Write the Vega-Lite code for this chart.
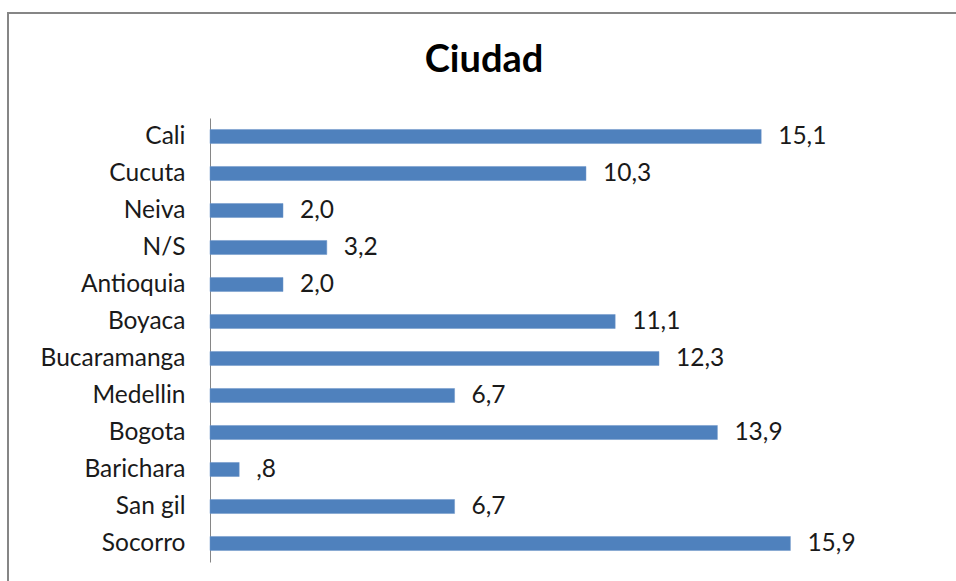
{
  "$schema": "https://vega.github.io/schema/vega-lite/v6.json",
  "width": 952,
  "height": 574,
  "autosize": {"type": "none"},
  "padding": {"left": 8, "top": 13, "right": 0, "bottom": 0},
  "background": "white",
  "title": {
    "text": "Ciudad",
    "font": "Lato",
    "fontSize": 38,
    "fontWeight": "bold",
    "color": "#000000",
    "anchor": "middle",
    "frame": "group",
    "baseline": "alphabetic",
    "offset": -97
  },
  "config": {
    "view": {"stroke": "#868686", "strokeWidth": 2}
  },
  "data": {
    "values": [
      {"ciudad": "Cali", "pct": 15.1, "label": "15,1"},
      {"ciudad": "Cucuta", "pct": 10.3, "label": "10,3"},
      {"ciudad": "Neiva", "pct": 2.0, "label": "2,0"},
      {"ciudad": "N/S", "pct": 3.2, "label": "3,2"},
      {"ciudad": "Antioquia", "pct": 2.0, "label": "2,0"},
      {"ciudad": "Boyaca", "pct": 11.1, "label": "11,1"},
      {"ciudad": "Bucaramanga", "pct": 12.3, "label": "12,3"},
      {"ciudad": "Medellin", "pct": 6.7, "label": "6,7"},
      {"ciudad": "Bogota", "pct": 13.9, "label": "13,9"},
      {"ciudad": "Barichara", "pct": 0.8, "label": ",8"},
      {"ciudad": "San gil", "pct": 6.7, "label": "6,7"},
      {"ciudad": "Socorro", "pct": 15.9, "label": "15,9"}
    ]
  },
  "encoding": {
    "y": {
      "field": "ciudad",
      "type": "nominal",
      "sort": null,
      "scale": {"range": [105, 549], "paddingInner": 0.62, "paddingOuter": 0.31},
      "axis": {
        "title": null,
        "offset": -202,
        "ticks": false,
        "labelPadding": 25,
        "labelFont": "Lato",
        "labelFontSize": 24.5,
        "labelColor": "#1a1a1a",
        "domainColor": "#868686",
        "domainWidth": 1,
        "grid": false
      }
    },
    "x": {
      "field": "pct",
      "type": "quantitative",
      "scale": {"domain": [0, 15.9], "range": [202, 782.4], "nice": false, "zero": true},
      "axis": null
    }
  },
  "layer": [
    {"mark": {"type": "bar", "color": "#4f81bd", "stroke": "#6f97c9", "strokeWidth": 0.5}},
    {
      "mark": {"type": "text", "align": "left", "baseline": "middle", "dx": 17, "font": "Lato", "fontSize": 24.5, "color": "#1a1a1a"},
      "encoding": {"text": {"field": "label"}}
    }
  ]
}
